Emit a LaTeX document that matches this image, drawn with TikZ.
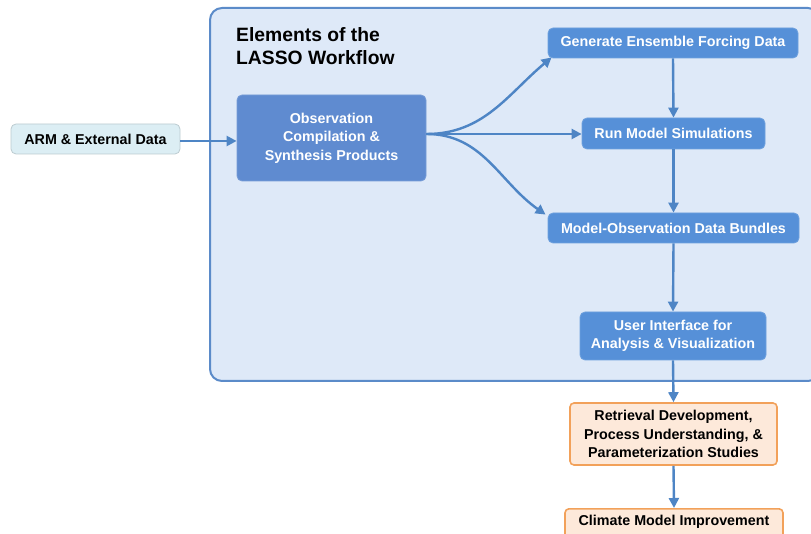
\documentclass[tikz,border=0pt]{standalone}
\usepackage{fontspec}
\setmainfont{Liberation Sans}
\usetikzlibrary{arrows.meta,calc}
\definecolor{contfill}{HTML}{DEE9F8}
\definecolor{contdraw}{HTML}{5B8BC9}
\definecolor{obsfill}{HTML}{5F8BD0}
\definecolor{stepfill}{HTML}{5690D8}
\definecolor{arrowc}{HTML}{4E85C5}
\definecolor{armfill}{HTML}{DCEEF4}
\definecolor{armdraw}{HTML}{BCCBD0}
\definecolor{orfill}{HTML}{FDE9DA}
\definecolor{ordraw}{HTML}{F2A15A}
\tikzset{
  bluebox/.style={fill=stepfill, draw=stepfill!85!white, line width=0.8pt, rounded corners=5pt, text=white, font=\bfseries\fontsize{14.3}{18.5}\selectfont, align=center, inner sep=0pt},
  orangebox/.style={fill=orfill, draw=ordraw, line width=1.6pt, rounded corners=4pt, text=black, font=\bfseries\fontsize{14.3}{18.5}\selectfont, align=center, inner sep=0pt},
  flow/.style={draw=arrowc, line width=2.4pt, -{Triangle[length=10pt,width=10pt]}},
}
\begin{document}
\begin{tikzpicture}[x=1pt,y=-1pt]
\useasboundingbox (0,0) rectangle (811,534);
% container
\node[fill=contfill, draw=contdraw, line width=2pt, rounded corners=12pt, minimum width=610pt, minimum height=373pt, anchor=north west, inner sep=0pt] (cont) at (209,7) {};
\node[anchor=north west, align=left, font=\bfseries\fontsize{19.3}{23}\selectfont, inner sep=0pt] (title) at (236,27) {Elements of the\\LASSO Workflow};
% nodes
\node[fill=armfill, draw=armdraw, line width=0.8pt, rounded corners=5pt, minimum width=169pt, minimum height=30pt, font=\bfseries\fontsize{14.3}{15}\selectfont, inner sep=0pt] (arm) at (95.5,139) {ARM \& External Data};
\node[bluebox, fill=obsfill, draw=obsfill!85!white, minimum width=189pt, minimum height=86pt] (obs) at (331.5,138) {Observation\\Compilation \&\\Synthesis Products};
\node[bluebox, minimum width=250pt, minimum height=30pt] (gen) at (673,43) {Generate Ensemble Forcing Data};
\node[bluebox, minimum width=183pt, minimum height=31pt] (run) at (673.5,133.5) {Run Model Simulations};
\node[bluebox, minimum width=251pt, minimum height=30pt] (mod) at (673.5,228) {Model-Observation Data Bundles};
\node[bluebox, minimum width=186pt, minimum height=48pt] (ui) at (673,336) {User Interface for\\Analysis \& Visualization};
\node[orangebox, minimum width=207pt, minimum height=62pt] (ret) at (673.5,434) {Retrieval Development,\\Process Understanding, \&\\Parameterization Studies};
\node[orangebox, minimum width=218pt, minimum height=34pt, anchor=north] (cli) at (674,508) {};
\node[font=\bfseries\fontsize{14.3}{15}\selectfont, inner sep=0pt] (clitext) at (674,522) {Climate Model Improvement};
% connectors
\draw[flow] (arm.east |- 0,141) -- (obs.west |- 0,141);
\coordinate (src) at ($(obs.east)+(0,-4)$);
\draw[flow] (src) to[out=0,in=220] ($(gen.south west)+(4,-1)$);
\draw[flow] (src) -- (src -| run.west);
\draw[flow] (src) to[out=0,in=145] ($(mod.north west)+(-2,2)$);
\draw[flow] (gen.south) -- (run.north);
\draw[flow] (run.south) -- (mod.north);
\draw[flow] (mod.south) -- (ui.north);
\draw[flow] (ui.south) -- (ret.north);
\draw[flow] (ret.south) -- (cli.north);
\end{tikzpicture}
\end{document}
